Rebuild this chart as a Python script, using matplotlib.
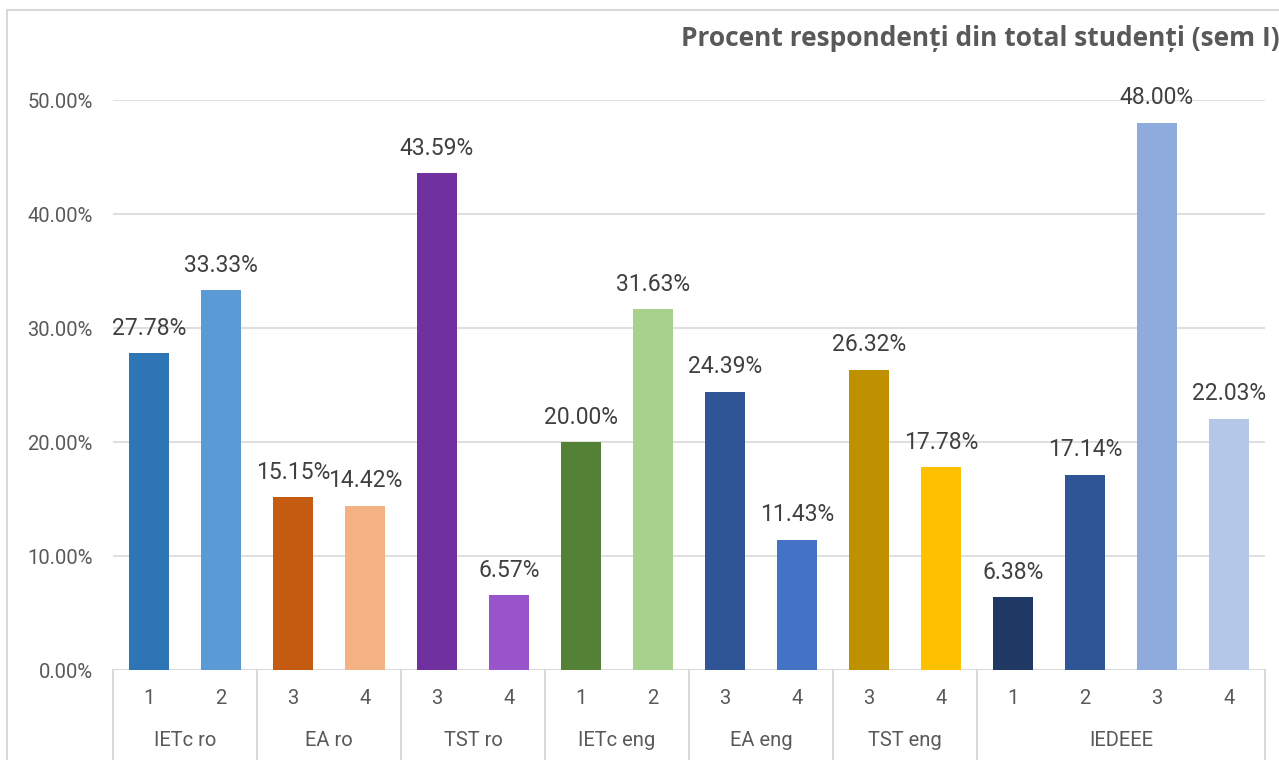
import matplotlib
matplotlib.use("Agg")
import matplotlib.pyplot as plt
from matplotlib.patches import Rectangle
from matplotlib.lines import Line2D
from matplotlib.ticker import FuncFormatter

groups = ["IETc ro", "EA ro", "TST ro", "IETc eng", "EA eng", "TST eng", "IEDEEE"]
group_years = [["1", "2"], ["3", "4"], ["3", "4"], ["1", "2"], ["3", "4"], ["3", "4"], ["1", "2", "3", "4"]]
values = [27.78, 33.33, 15.15, 14.42, 43.59, 6.57, 20.00, 31.63,
          24.39, 11.43, 26.32, 17.78, 6.38, 17.14, 48.00, 22.03]
colors = ["#2E75B6", "#5B9BD5", "#C55A11", "#F4B183", "#7030A0", "#9954CC",
          "#538135", "#A9D18E", "#2F5597", "#4472C4", "#BF9000", "#FFC000",
          "#203864", "#2F5597", "#8FAADC", "#B4C7E7"]
yticks = [0, 10, 20, 30, 40, 50]
title = "Procent respondenți din total studenți (sem I)"

plt.rcParams['font.family'] = ['Roboto', 'DejaVu Sans']
W, H = 1279, 760
fig = plt.figure(figsize=(W / 100, H / 100), dpi=100)

x0, x1 = 113, 1265
y0, y50 = 670, 100
ax = fig.add_axes([x0 / W, 1 - y0 / H, (x1 - x0) / W, (y0 - y50) / H])

n = len(values)
xs = list(range(n))
ax.bar(xs, values, width=0.56, color=colors, zorder=3)
ax.set_xlim(-0.5, n - 0.5)
ax.set_ylim(0, 50)
ax.set_yticks(yticks)
ax.yaxis.set_major_formatter(FuncFormatter(lambda v, p: f"{v:.2f}%"))
ax.tick_params(axis='y', length=0, pad=14.5, labelsize=14.5, labelcolor="#595959")
ax.set_xticks([])
for s in ax.spines.values():
    s.set_visible(False)
ax.grid(axis='y', color="#D9D9D9", linewidth=1.2, zorder=0)
ax.axhline(0, color="#D9D9D9", linewidth=1.5, zorder=1)

for x, v in zip(xs, values):
    ax.annotate(f"{v:.2f}%", (x, v), xytext=(0, 18), textcoords='offset points',
                ha='center', va='center', fontsize=16.5, color="#404040",
                annotation_clip=False)

# multi-level category axis
trans = ax.get_xaxis_transform()
pos = 0
bounds = [-0.5]
for g, yrs in zip(groups, group_years):
    for i, yr in enumerate(yrs):
        ax.text(pos + i, -(699 - y0) / (y0 - y50), yr, transform=trans,
                ha='center', va='center', fontsize=14.5, color="#595959")
    center = pos + (len(yrs) - 1) / 2
    ax.text(center, -(740 - y0) / (y0 - y50), g, transform=trans,
            ha='center', va='center', fontsize=14.5, color="#595959")
    pos += len(yrs)
    bounds.append(pos - 0.5)
for b in bounds:
    ax.add_line(Line2D([b, b], [0, -(800 - y0) / (y0 - y50)], transform=trans,
                       color="#D9D9D9", linewidth=1.5, clip_on=False))

# figure border (chart area)
fig.add_artist(Rectangle((7 / W, -0.1), 1.2, 1 - 10 / H + 0.1, transform=fig.transFigure,
                         fill=False, edgecolor="#D9D9D9", linewidth=1.5))

fig.text(681 / W, 1 - 38 / H, title, ha='left', va='center', fontsize=19,
         fontweight='bold', color="#595959", family=['Open Sans', 'DejaVu Sans'])

fig.savefig("out.png", dpi=100)
